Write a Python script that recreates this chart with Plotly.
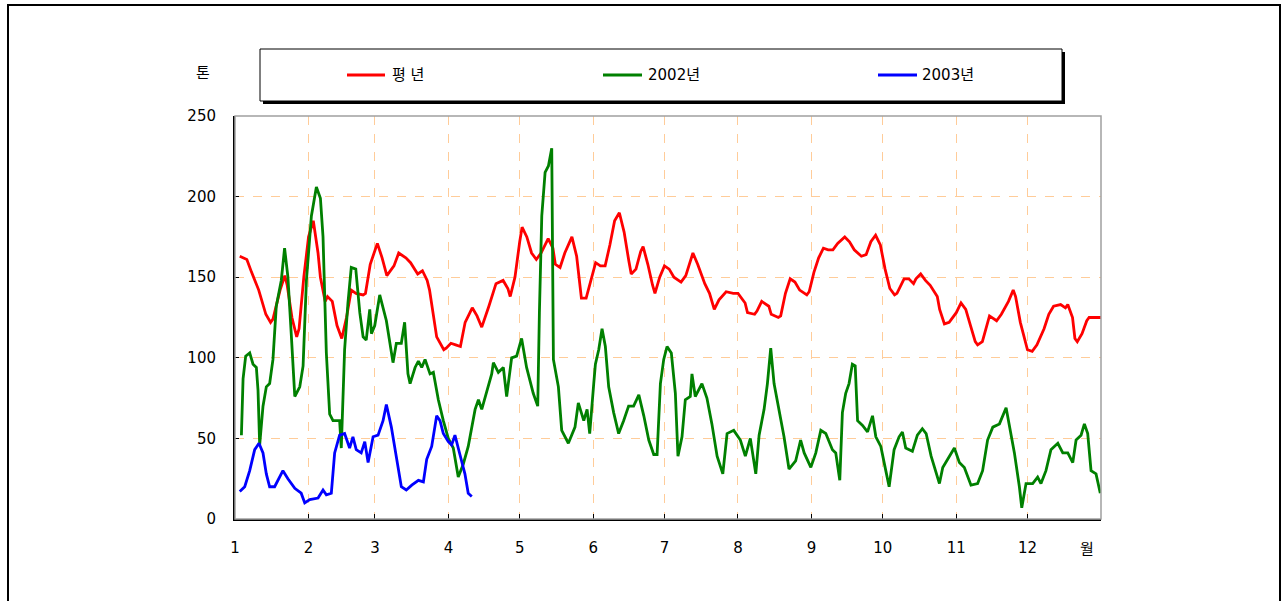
import plotly.graph_objects as go

# ---- data (x = day of year, y = tonnes) ----
normal_days = [3, 6, 8, 11, 14, 16, 17, 20, 22, 23, 25, 27, 28, 30, 32, 34, 36, 37, 39, 40, 42, 44, 46, 48, 50, 52, 55, 56, 58, 61,
               63, 65, 68, 70, 73, 75, 78, 80, 82, 83, 86, 89, 90, 92, 94, 96, 98, 101, 103, 105, 108, 111, 114, 116, 117, 119,
               121, 122, 124, 126, 128, 130, 133, 135, 136, 138, 140, 143, 145, 147, 149, 151, 153, 155, 157, 159, 161, 163, 165,
               167, 168, 170, 172, 173, 175, 177, 178, 180, 182, 184, 186, 189, 191, 194, 196, 199, 201, 203, 205, 208, 211, 213,
               216, 217, 220, 221, 223, 226, 227, 230, 231, 233, 235, 237, 239, 242, 243, 245, 247, 249, 251, 253, 255, 258, 260,
               262, 265, 267, 269, 271, 273, 275, 277, 279, 280, 283, 285, 287, 288, 290, 292, 294, 297, 298, 300, 302, 305, 307,
               309, 311, 313, 314, 316, 319, 320, 322, 324, 327, 329, 330, 332, 334, 335, 337, 339, 342, 344, 346, 349, 351, 352,
               354, 355, 356, 358, 360, 361, 366]
normal_vals = [163, 161, 153, 142, 127, 122, 124, 142, 151, 145, 125, 113, 118, 150, 175, 185, 165, 150, 135, 138, 135, 120, 112, 125,
               142, 140, 139, 140, 158, 171, 162, 151, 157, 165, 162, 159, 152, 154, 148, 142, 113, 105, 106, 109, 108, 107, 122,
               131, 126, 119, 132, 146, 148, 143, 138, 150, 172, 181, 175, 165, 161, 165, 174, 168, 158, 156, 165, 175, 163, 137,
               137, 148, 159, 157, 157, 170, 185, 190, 178, 160, 152, 155, 166, 169, 158, 145, 140, 150, 157, 155, 150, 147, 151,
               165, 158, 146, 140, 130, 136, 141, 140, 140, 134, 128, 127, 129, 135, 132, 127, 125, 126, 140, 149, 147, 142, 139,
               141, 153, 162, 168, 167, 167, 171, 175, 172, 167, 163, 164, 172, 176, 170, 155, 143, 139, 140, 149, 149, 146, 149,
               152, 148, 145, 138, 130, 121, 122, 128, 134, 130, 120, 110, 108, 110, 126, 125, 123, 127, 135, 142, 138, 122, 110,
               105, 104, 108, 118, 127, 132, 133, 131, 133, 125, 112, 110, 115, 123, 125, 125]

y2002_days = [3.7, 4.4, 5.5, 7.2, 8.6, 10.0, 10.7, 11.4, 12.8, 14.2, 15.6, 17.0, 18.4, 20.5, 21.9, 23.3, 24.7, 26.2, 28.3, 29.7,
              31.1, 33.2, 35.3, 37.0, 38.1, 39.5, 40.9, 42.3, 45.1, 45.8, 47.2, 48.6, 50.0, 51.9, 53.6, 55.0, 56.3, 57.8, 58.5,
              59.9, 62.0, 64.8, 67.6, 69.0, 71.1, 72.5, 73.9, 74.8, 76.9, 78.3, 79.7, 81.1, 83.2, 84.6, 86.7, 88.8, 90.9, 93.0,
              95.1, 97.2, 99.3, 102.2, 103.6, 105.0, 107.1, 109.2, 109.9, 112.0, 114.1, 115.5, 117.6, 119.7, 121.8, 123.9, 126.7,
              128.6, 129.3, 130.3, 131.7, 133.1, 134.5, 135.2, 137.3, 138.7, 141.5, 144.3, 145.7, 148.0, 149.4, 150.5, 152.2,
              152.9, 154.3, 155.7, 157.1, 158.5, 160.6, 162.7, 164.8, 166.9, 169.0, 171.2, 173.3, 175.4, 177.5, 178.9, 180.3,
              181.7, 183.1, 184.9, 186.6, 187.7, 189.4, 190.8, 192.9, 193.6, 195.0, 197.8, 199.9, 202.0, 204.2, 206.6, 208.4,
              211.2, 214.0, 216.1, 218.2, 220.5, 221.9, 224.0, 225.4, 226.8, 228.2, 230.3, 232.4, 234.5, 237.3, 239.4, 240.9,
              243.7, 245.8, 247.9, 250.0, 252.8, 254.2, 255.9, 257.0, 258.4, 259.8, 261.2, 262.4, 263.4, 265.5, 267.6, 269.7,
              271.1, 273.2, 275.3, 276.7, 278.8, 280.9, 282.3, 283.7, 286.5, 288.6, 290.7, 292.3, 294.4, 297.9, 299.3, 301.4,
              304.2, 306.3, 308.4, 311.2, 314.0, 316.1, 318.2, 320.4, 323.2, 326.0, 327.4, 329.5, 331.6, 332.6, 334.4, 337.2,
              339.3, 340.7, 342.8, 344.9, 347.8, 349.9, 352.0, 354.1, 355.5, 357.6, 359.0, 360.4, 361.8, 363.9, 365.7]
y2002_vals = [52, 87, 101, 103, 96, 94, 80, 46, 70, 82, 84, 99, 132, 148, 168, 150, 115, 76, 82, 95,
              148, 188, 206, 199, 175, 103, 65, 61, 61, 44, 105, 134, 156, 155, 128, 113, 111, 130, 115,
              120, 139, 123, 97, 109, 109, 122, 90, 84, 94, 98, 94, 99, 90, 91, 74, 61, 50, 44,
              26, 34, 45, 68, 74, 68, 79, 90, 97, 91, 94, 76, 100, 101, 112, 94, 78,
              70, 128, 188, 215, 219, 230, 99, 82, 55, 47, 57, 72, 61, 68, 53, 84,
              96, 105, 118, 107, 82, 66, 53, 61, 70, 70, 77, 64, 49, 40, 40, 84,
              99, 107, 103, 78, 39, 51, 74, 76, 90, 76, 84, 75, 59, 39, 28, 53,
              55, 49, 39, 50, 28, 52, 68, 84, 106, 84, 68, 51, 31, 36, 49, 41,
              32, 41, 55, 53, 43, 41, 24, 66, 78, 84, 96, 95, 61, 58, 54, 64,
              51, 45, 30, 20, 43, 51, 54, 44, 42, 52, 56, 53, 39, 22, 32, 37,
              44, 35, 32, 21, 22, 30, 49, 57, 59, 69, 57, 41, 20, 7, 22, 22,
              26, 22, 30, 43, 47, 41, 41, 35, 49, 52, 59, 53, 30, 28, 16]

y2003_days = [3.0, 5.1, 7.2, 9.3, 11.1, 12.8, 14.2, 15.6, 17.7, 21.2, 23.3, 26.2, 28.9, 30.4, 32.5, 36.0, 38.1, 39.5, 41.6, 43.0,
              45.1, 47.2, 49.3, 50.7, 52.1, 54.2, 55.7, 57.1, 59.2, 61.3, 63.4, 64.8, 66.9, 69.0, 71.1, 73.2, 75.5, 78.3, 80.4,
              81.8, 83.9, 86.0, 87.4, 88.8, 90.9, 92.3, 93.7, 95.8, 97.9, 99.3, 100.8]
y2003_vals = [17, 20, 30, 43, 47, 41, 28, 20, 20, 30, 25, 19, 16, 10, 12, 13, 18, 15, 16, 41,
              52, 53, 44, 51, 43, 41, 48, 35, 51, 52, 61, 71, 57, 39, 20, 18, 21, 24, 23,
              37, 45, 64, 61, 53, 48, 46, 52, 40, 28, 16, 14]

month_starts = [1, 32, 60, 91, 121, 152, 182, 213, 244, 274, 305, 335]
month_labels = ["1", "2", "3", "4", "5", "6", "7", "8", "9", "10", "11", "12"]
y_ticks = [0, 50, 100, 150, 200, 250]
series_names = ["평 년", "2002년", "2003년"]
series_colors = ["#FF0000", "#008000", "#0000FF"]

# ---- layout geometry (pixels) ----
W, H = 1284, 601
L, R, T, B = 235, 183, 116, 82
PW, PH = W - L - R, H - T - B


def px(x):
    return (x - L) / PW


def py(y):
    return (H - B - y) / PH


FONT = "DejaVu Sans, Noto Sans CJK KR, sans-serif"

fig = go.Figure()
for days, vals, name, color in zip([normal_days, y2002_days, y2003_days],
                                   [normal_vals, y2002_vals, y2003_vals],
                                   series_names, series_colors):
    fig.add_trace(go.Scatter(x=days, y=vals, mode="lines", name=name,
                             line=dict(color=color, width=2.8), showlegend=False))

shapes = [
    # outer frame
    dict(type="rect", xref="paper", yref="paper", x0=px(8), x1=px(1280), y0=py(615), y1=py(5),
         line=dict(color="black", width=2), layer="below"),
    # plot area top/right border (gray)
    dict(type="rect", xref="paper", yref="paper", x0=0, x1=1, y0=0, y1=1,
         line=dict(color="#A0A0A0", width=1.5), layer="above"),
    # legend shadow
    dict(type="rect", xref="paper", yref="paper", x0=px(263), x1=px(1065), y0=py(104), y1=py(52),
         line=dict(width=0), fillcolor="black", layer="above"),
    # legend box
    dict(type="rect", xref="paper", yref="paper", x0=px(260), x1=px(1062), y0=py(101), y1=py(49),
         line=dict(color="black", width=1), fillcolor="white", layer="above"),
]
annotations = []
legend_pos = [(347, 385, 390), (603, 642, 646), (878, 917, 920)]
for (lx0, lx1, tx), name, color in zip(legend_pos, series_names, series_colors):
    shapes.append(dict(type="line", xref="paper", yref="paper", x0=px(lx0), x1=px(lx1),
                       y0=py(75), y1=py(75), line=dict(color=color, width=2.8), layer="above"))
    annotations.append(dict(xref="paper", yref="paper", x=px(tx), y=py(75), text=name,
                            showarrow=False, xanchor="left", yanchor="middle",
                            font=dict(family=FONT, size=15, color="black")))

annotations.append(dict(xref="paper", yref="paper", x=px(203), y=py(73), text="톤", showarrow=False,
                        xanchor="center", yanchor="middle", font=dict(family=FONT, size=15, color="black")))
annotations.append(dict(xref="paper", yref="paper", x=px(1087), y=py(549), text="월", showarrow=False,
                        xanchor="center", yanchor="middle", font=dict(family=FONT, size=15, color="black")))

grid_color = "#FFCC99"
fig.update_layout(
    width=W, height=H,
    margin=dict(l=L, r=R, t=T, b=B),
    paper_bgcolor="white", plot_bgcolor="white",
    shapes=shapes, annotations=annotations,
    font=dict(family=FONT, size=15, color="black"),
    xaxis=dict(range=[1, 366], tickmode="array", tickvals=month_starts, ticktext=month_labels,
               showgrid=True, gridcolor=grid_color, griddash="dash", gridwidth=1,
               showline=True, linecolor="black", linewidth=2,
               ticks="inside", ticklen=5, tickcolor="black", ticklabelstandoff=14,
               zeroline=False, fixedrange=True),
    yaxis=dict(range=[0, 250], tickmode="array", tickvals=y_ticks,
               showgrid=True, gridcolor=grid_color, griddash="dash", gridwidth=1,
               showline=True, linecolor="black", linewidth=2,
               ticks="inside", ticklen=4, tickcolor="black", ticklabelstandoff=14,
               zeroline=False, fixedrange=True),
)

fig.write_html("out.html", config={"displayModeBar": False},
               post_script="document.body.style.margin='0px';document.body.style.overflow='hidden';")
